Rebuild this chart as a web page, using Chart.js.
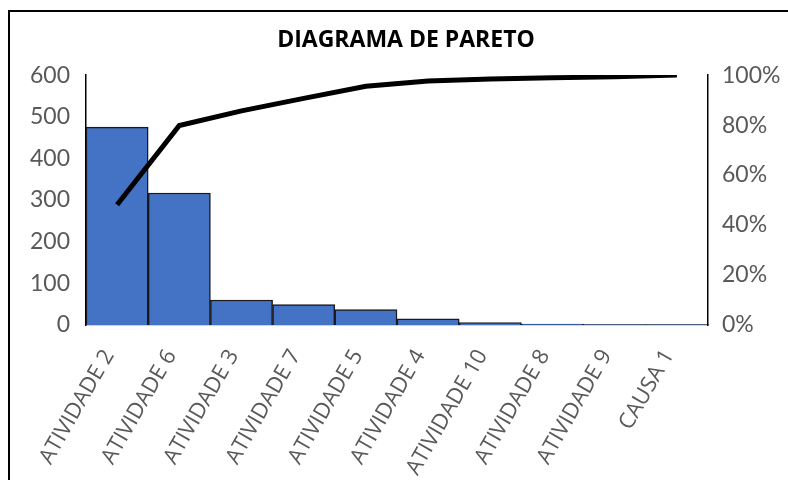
<!DOCTYPE html>
<html>
<head>
<meta charset="utf-8">
<script src="https://cdn.jsdelivr.net/npm/chart.js@4/dist/chart.umd.min.js"></script>
<style>
  html, body { margin: 0; padding: 0; background: #fff; }
  body { width: 788px; height: 480px; overflow: hidden; position: relative; }
  #frame { position: absolute; left: 8px; top: 10px; width: 800px; height: 500px;
           border-left: 2px solid #000; border-top: 2px solid #000; box-sizing: border-box; }
  #c { position: absolute; left: 0; top: 0; }
</style>
</head>
<body>
<div id="frame"></div>
<canvas id="c" width="788" height="480"></canvas>
<script>
// Causes, sorted by frequency
const categories = ['ATIVIDADE 2', 'ATIVIDADE 6', 'ATIVIDADE 3', 'ATIVIDADE 7', 'ATIVIDADE 5',
                    'ATIVIDADE 4', 'ATIVIDADE 10', 'ATIVIDADE 8', 'ATIVIDADE 9', 'CAUSA 1'];
// Occurrences per cause
const counts = [475, 317, 60, 49, 37, 15, 6, 2, 1, 1];
// Cumulative share (%)
const cumulativePct = [48.1, 79.8, 85.7, 90.7, 95.5, 97.6, 98.4, 98.9, 99.3, 100];
// Axis tick labels
const countTicks = [0, 100, 200, 300, 400, 500, 600];
const pctTicks = [0, 20, 40, 60, 80, 100];

const FONT = 'Lato, "Open Sans", sans-serif';
const GREY = '#595959';

new Chart(document.getElementById('c'), {
  data: {
    labels: categories,
    datasets: [
      {
        type: 'line',
        data: cumulativePct,
        yAxisID: 'yPct',
        borderColor: '#000',
        borderWidth: 5,
        pointRadius: 0,
        tension: 0,
        fill: false,
        order: 0
      },
      {
        type: 'bar',
        data: counts,
        yAxisID: 'y',
        backgroundColor: '#4472C4',
        borderColor: '#1a1a1a',
        borderWidth: 1.5,
        categoryPercentage: 1,
        barPercentage: 1,
        order: 1
      }
    ]
  },
  options: {
    responsive: false,
    devicePixelRatio: 1,
    animation: false,
    layout: { padding: { left: 24, right: 0, top: 0, bottom: 0 } },
    plugins: {
      legend: { display: false },
      tooltip: { enabled: false },
      title: {
        display: true,
        text: 'DIAGRAMA DE PARETO',
        color: '#000',
        font: { family: '"Open Sans", sans-serif', size: 23, weight: 'bold', lineHeight: 1.2 },
        padding: { top: 26.5, bottom: 21 }
      }
    },
    scales: {
      x: {
        grid: { display: false, drawTicks: false },
        border: { display: true, color: '#a6a6a6', width: 1.5 },
        ticks: {
          color: GREY,
          font: { family: '"Open Sans", sans-serif', size: 22 },
          minRotation: 60,
          maxRotation: 60,
          padding: 20,
          labelOffset: -8,
          autoSkip: false
        },
        afterFit: s => { s.height = 155; }
      },
      y: {
        position: 'left',
        min: 0,
        max: 600,
        afterBuildTicks: s => { s.ticks = countTicks.map(v => ({ value: v })); },
        grid: { display: false, drawTicks: false },
        border: { display: true, color: '#000', width: 1.5 },
        ticks: { color: GREY, font: { family: FONT, size: 23 }, padding: 16 },
        afterFit: s => { s.width = 62; }
      },
      yPct: {
        position: 'right',
        min: 0,
        max: 100,
        afterBuildTicks: s => { s.ticks = pctTicks.map(v => ({ value: v })); },
        grid: { display: false, drawTicks: false },
        border: { display: true, color: '#000', width: 1.5 },
        ticks: { color: GREY, font: { family: FONT, size: 23 }, padding: 14, callback: v => v + '%' },
        afterFit: s => { s.width = 80; }
      }
    }
  }
});
</script>
</body>
</html>
